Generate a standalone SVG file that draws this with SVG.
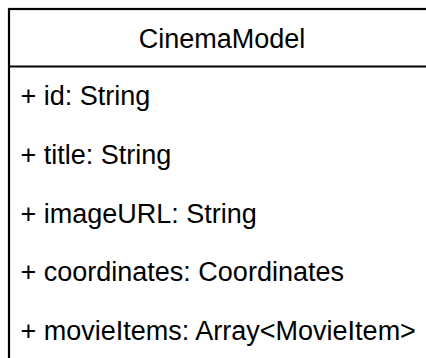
<svg xmlns="http://www.w3.org/2000/svg" width="426" height="358" viewBox="0 0 426 358">
  <style>
    .frame { fill: #ffffff; stroke: #000000; stroke-width: 2.2; }
    .title { font-family: "Liberation Sans", Arial, Helvetica, sans-serif; font-size: 27px; fill: #000000; text-anchor: middle; }
    .attr { font-family: "Liberation Sans", Arial, Helvetica, sans-serif; font-size: 27px; fill: #000000; }
  </style>
  <rect width="426" height="358" fill="#ffffff"/>
  <g id="CinemaModel">
    <rect class="frame" x="9" y="9" width="426" height="360"/>
    <line class="frame" x1="9" y1="66.5" x2="435" y2="66.5"/>
    <text class="title" x="222" y="48">CinemaModel</text>
    <text class="attr" x="20.5" y="105">+ id: String</text>
    <text class="attr" x="20.5" y="164">+ title: String</text>
    <text class="attr" x="20.5" y="222.5">+ imageURL: String</text>
    <text class="attr" x="20.5" y="281">+ coordinates: Coordinates</text>
    <text class="attr" x="20.5" y="340">+ movieItems: Array&lt;MovieItem&gt;</text>
  </g>
  <g id="connectors"/>
</svg>
